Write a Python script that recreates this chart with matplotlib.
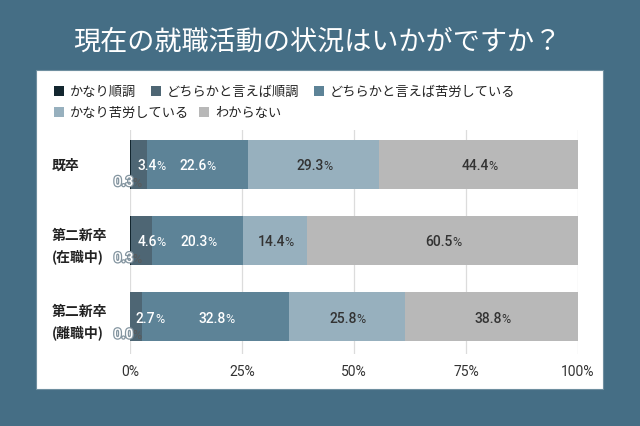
import matplotlib
matplotlib.use("Agg")
import matplotlib.pyplot as plt
import matplotlib.patheffects as pe
import numpy as np
from matplotlib.patches import Rectangle

plt.rcParams["font.family"] = ["Noto Sans CJK JP", "DejaVu Sans"]

TITLE = "現在の就職活動の状況はいかがですか？"
CATEGORIES = ["既卒", "第二新卒\n(在職中)", "第二新卒\n(離職中)"]
SERIES = ["かなり順調", "どちらかと言えば順調", "どちらかと言えば苦労している",
          "かなり苦労している", "わからない"]
VERY_GOOD = [0.3, 0.3, 0.0]
GOOD = [3.4, 4.6, 2.7]
HARD = [22.6, 20.3, 32.8]
VERY_HARD = [29.3, 14.4, 25.8]
UNKNOWN = [44.4, 60.5, 38.8]
XTICKS = [0, 25, 50, 75, 100]

COLORS = ["#13262f", "#4e6674", "#5d8397", "#97b0be", "#b8b8b8"]
LABEL_COLORS = ["white", "white", "white", "#333333", "#333333"]
BG = "#456e85"
NUM_FONT = ["Roboto", "DejaVu Sans"]

W, H = 640, 427


def fx(px):
    return px / W


def fy(py):
    return 1 - py / H


def put_value(ax, x, y, value, color, ha="center", outline=False):
    # y axis is inverted, so a baseline a bit below centre is y + 0.065
    base = y + 0.065
    num_color = "white" if outline else color
    num = ax.text(x, base, f"{value:.1f}", ha=ha, va="baseline", fontsize=10,
                  color=num_color, family=NUM_FONT, fontweight="medium",
                  zorder=5)
    if outline:
        num.set_path_effects([pe.withStroke(linewidth=1.8, foreground="#8495a0")])
    pct_color = "#5a5a5a" if outline else color
    ax.annotate("%", xy=(1, base), xycoords=(num, "data"), xytext=(-0.4, 0),
                textcoords="offset points", ha="left", va="baseline",
                fontsize=9, color=pct_color, family=NUM_FONT, zorder=5)


fig = plt.figure(figsize=(6.4, 4.27), dpi=100, facecolor=BG)
fig.patches.append(Rectangle((fx(36), fy(390)), fx(567), 319 / H,
                             transform=fig.transFigure, facecolor="white",
                             edgecolor="#6f8fa0", linewidth=0.8, zorder=-10))
fig.text(0.496, fy(42), TITLE, ha="center", va="center", fontsize=19.5,
         color="white")

# legend drawn as a flow layout like the original
legend_rows = [
    [(0, 54, 92), (1, 151, 92), (2, 314, 92)],
    [(3, 54, 113), (4, 199, 113)],
]
for row in legend_rows:
    for idx, px, py in row:
        fig.patches.append(Rectangle((fx(px), fy(py + 5)), fx(10), 10 / H,
                                     transform=fig.transFigure,
                                     facecolor=COLORS[idx], zorder=2))
        fig.text(fx(px + 16), fy(py), SERIES[idx], ha="left", va="center",
                 fontsize=9.5, color="#222222")

ax = fig.add_axes([fx(130), fy(355), fx(448), 224 / H])
data = np.array([VERY_GOOD, GOOD, HARD, VERY_HARD, UNKNOWN])
y = np.arange(len(CATEGORIES))
left = np.zeros(len(CATEGORIES))
for s, values in enumerate(data):
    ax.barh(y, values, left=left, height=0.65, color=COLORS[s], zorder=3)
    for i, v in enumerate(values):
        if v < 1:
            put_value(ax, 0.7, y[i] + 0.22, v, "#555555", ha="right", outline=True)
        elif v < 6:
            put_value(ax, left[i] + 1.3, y[i], v, LABEL_COLORS[s], ha="left")
        else:
            put_value(ax, left[i] + v / 2 - 0.8, y[i], v, LABEL_COLORS[s])
    left += values

for i, cat in enumerate(CATEGORIES):
    dy = 0.07 if "\n" in cat else 0
    ax.text(-0.174, y[i] + dy, cat, transform=ax.get_yaxis_transform(),
            ha="left", va="center", fontsize=10, fontweight="bold",
            color="#222222", linespacing=1.55)

ax.set_xlim(0, 100)
ax.set_ylim(2.49, -0.45)
ax.set_xticks(XTICKS)
ax.set_xticklabels([f"{t}%" for t in XTICKS], family=NUM_FONT, fontsize=10,
                   color="#333333")
ax.set_yticks([])
ax.tick_params(axis="x", length=0, pad=7)
ax.grid(axis="x", color="#dcdcdc", linewidth=0.9, zorder=0)
ax.set_axisbelow(True)
for spine in ax.spines.values():
    spine.set_visible(False)
ax.set_facecolor("none")

fig.savefig("out.png", dpi=100, facecolor=BG)
